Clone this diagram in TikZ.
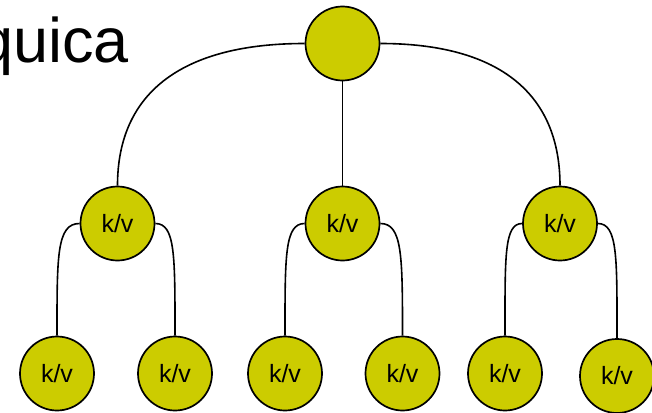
\documentclass[tikz,border=0pt]{standalone}
\usepackage{fontspec}
\setmainfont{Liberation Sans}
\definecolor{nodefill}{HTML}{CCCC00}
\begin{document}
\begin{tikzpicture}[x=1pt,y=-1pt,
  kv/.style={circle,draw=black,line width=1.7pt,fill=nodefill,
    minimum size=74pt,inner sep=0pt,font=\fontsize{25}{25}\selectfont},
  link/.style={draw=black,line width=1.6pt}]
  \useasboundingbox (0,0) rectangle (652,412);

  % heading fragment
  \node[anchor=base east,inner sep=0pt,font=\fontsize{63}{63}\selectfont] (title) at (129,62) {quica};

  % root
  \node[kv] (root) at (342.5,43.5) {};

  % second level
  \node[kv] (m1) at (117.5,223.5) {k/v};
  \node[kv] (m2) at (342.5,223.5) {k/v};
  \node[kv] (m3) at (560,223.5) {k/v};

  % leaves
  \node[kv] (b1) at (57,373.5) {k/v};
  \node[kv] (b2) at (175,373.5) {k/v};
  \node[kv] (b3) at (285,373.5) {k/v};
  \node[kv] (b4) at (402.5,373.5) {k/v};
  \node[kv] (b5) at (505,373.5) {k/v};
  \node[kv] (b6) at (617,376) {k/v};

  % root to second level
  \draw[link] (root.west) to[out=180,in=90,out distance=120pt,in distance=95pt] (m1.north);
  \draw[link] (root.south) -- (m2.north);
  \draw[link] (root.east) to[out=0,in=90,out distance=115pt,in distance=95pt] (m3.north);

  % second level to leaves
  \draw[link] (m1.west) to[out=180,in=90,out distance=23pt,in distance=80pt] (b1.north);
  \draw[link] (m1.east) to[out=0,in=90,out distance=20pt,in distance=80pt] (b2.north);
  \draw[link] (m2.west) to[out=180,in=90,out distance=20pt,in distance=80pt] (b3.north);
  \draw[link] (m2.east) to[out=0,in=90,out distance=22pt,in distance=80pt] (b4.north);
  \draw[link] (m3.west) to[out=180,in=90,out distance=18pt,in distance=80pt] (b5.north);
  \draw[link] (m3.east) to[out=0,in=90,out distance=20pt,in distance=80pt] (b6.north);
\end{tikzpicture}
\end{document}
